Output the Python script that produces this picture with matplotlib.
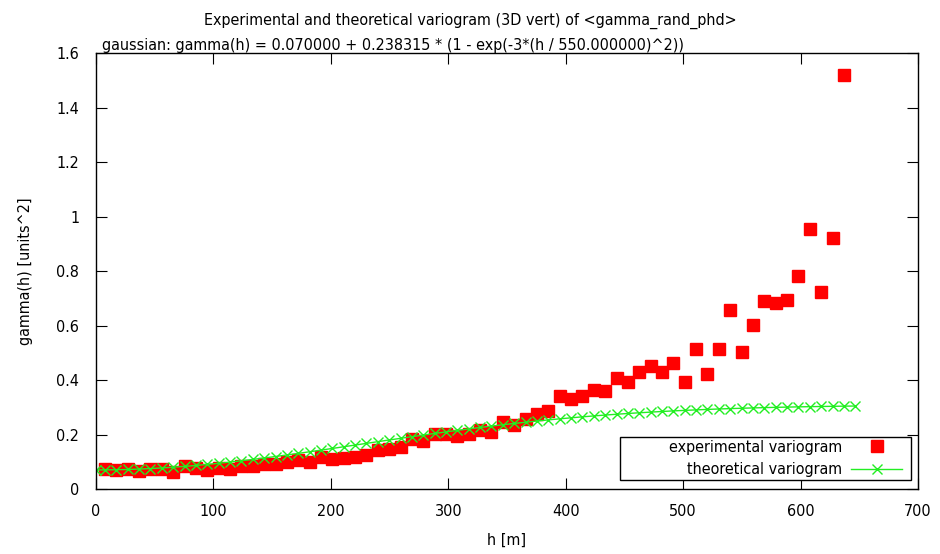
import numpy as np
import matplotlib
matplotlib.use("Agg")
import matplotlib.pyplot as plt
from matplotlib.patches import Rectangle

# Experimental variogram (lag distance [m] and gamma values)
h_exp = [7.7, 17.4, 27.1, 36.7, 46.4, 56.1, 65.8, 75.5, 85.1, 94.8,
         104.5, 114.2, 123.9, 133.5, 143.2, 152.9, 162.6, 172.3, 181.9, 191.6,
         201.3, 211.0, 220.7, 230.3, 240.0, 249.7, 259.4, 269.1, 278.7, 288.4,
         298.1, 307.8, 317.5, 327.1, 336.8, 346.5, 356.2, 365.9, 375.5, 385.2,
         394.9, 404.6, 414.3, 423.9, 433.6, 443.3, 453.0, 462.7, 472.3, 482.0,
         491.7, 501.4, 511.1, 520.7, 530.4, 540.1, 549.8, 559.5, 569.1, 578.8,
         588.5, 598.2, 607.9, 617.5, 627.2, 636.9]
g_exp = [0.072, 0.069, 0.072, 0.065, 0.073, 0.075, 0.064, 0.083, 0.078, 0.070,
         0.078, 0.073, 0.083, 0.083, 0.092, 0.092, 0.100, 0.106, 0.100, 0.119,
         0.110, 0.115, 0.119, 0.125, 0.143, 0.147, 0.155, 0.182, 0.178, 0.201,
         0.201, 0.196, 0.201, 0.217, 0.210, 0.245, 0.236, 0.256, 0.274, 0.287,
         0.341, 0.331, 0.341, 0.363, 0.361, 0.406, 0.393, 0.431, 0.453, 0.431,
         0.462, 0.393, 0.514, 0.421, 0.514, 0.657, 0.504, 0.601, 0.690, 0.684,
         0.694, 0.782, 0.953, 0.722, 0.920, 1.518]

# Theoretical (gaussian) variogram
h_th = [0.0] + h_exp + [646.0]
g_th = [0.0700, 0.0701, 0.0707, 0.0717, 0.0732, 0.0750, 0.0773, 0.0800, 0.0831, 0.0865,
        0.0903, 0.0945, 0.0989, 0.1037, 0.1086, 0.1139, 0.1193, 0.1250, 0.1308, 0.1367,
        0.1427, 0.1489, 0.1551, 0.1613, 0.1675, 0.1737, 0.1799, 0.1860, 0.1921, 0.1980,
        0.2039, 0.2096, 0.2152, 0.2206, 0.2258, 0.2309, 0.2359, 0.2406, 0.2451, 0.2494,
        0.2536, 0.2576, 0.2613, 0.2649, 0.2682, 0.2714, 0.2744, 0.2772, 0.2798, 0.2822,
        0.2845, 0.2867, 0.2886, 0.2904, 0.2921, 0.2937, 0.2951, 0.2964, 0.2976, 0.2987,
        0.2997, 0.3006, 0.3015, 0.3022, 0.3029, 0.3035, 0.3041, 0.3045]

x_ticks = [0, 100, 200, 300, 400, 500, 600, 700]
y_ticks = [0, 0.2, 0.4, 0.6, 0.8, 1.0, 1.2, 1.4, 1.6]
y_tick_labels = ['0', '0.2', '0.4', '0.6', '0.8', '1', '1.2', '1.4', '1.6']

title = "Experimental and theoretical variogram (3D vert) of <gamma_rand_phd>"
subtitle = "gaussian: gamma(h) = 0.070000 + 0.238315 * (1 - exp(-3*(h / 550.000000)^2))"

plt.rcParams['font.family'] = ['DejaVu Sans']
plt.rcParams['font.stretch'] = 'condensed'
fs = 11.5

fig = plt.figure(figsize=(9.4, 5.54), dpi=100)
ax = fig.add_axes([0.1021, 0.1173, 0.8745, 0.787])

ax.plot(h_exp, g_exp, linestyle='none', marker='s', markersize=8,
        color='#ff0000', label='experimental variogram')
ax.plot(h_th, g_th, color='#22ee22', linewidth=1.0, marker='x',
        markersize=7, markeredgewidth=1.0, label='theoretical variogram')

ax.set_xlim(0, 700)
ax.set_ylim(0, 1.6)
ax.set_xticks(x_ticks)
ax.set_yticks(y_ticks)
ax.set_yticklabels(y_tick_labels)
ax.tick_params(direction='in', length=8, width=0.8, top=True, right=True,
               labelsize=fs)
ax.tick_params(axis='x', pad=11)
ax.tick_params(axis='y', pad=12)
for s in ax.spines.values():
    s.set_linewidth(1.0)

ax.set_xlabel('h [m]', fontsize=fs, labelpad=10)
ax.set_ylabel('gamma(h) [units^2]', fontsize=fs, labelpad=17)

fig.text(0.5, 0.963, title, ha='center', va='center', fontsize=fs)
fig.text(0.109, 0.917, subtitle, ha='left', va='center', fontsize=fs)

# legend box drawn like gnuplot's key
ax.add_patch(Rectangle((0.6375, 0.0206), 0.354, 0.0987, transform=ax.transAxes,
                       facecolor='white', edgecolor='black', linewidth=1.0, zorder=4))
leg = ax.legend(loc='lower right', bbox_to_anchor=(0.985, 0.02), markerfirst=False,
                frameon=False, fontsize=fs, handlelength=3.2, borderpad=0.2,
                labelspacing=0.45, handletextpad=0.6, borderaxespad=0)
leg.set_zorder(5)
for t in leg.get_texts():
    t.set_ha('right')

fig.savefig('out.png', dpi=100)
